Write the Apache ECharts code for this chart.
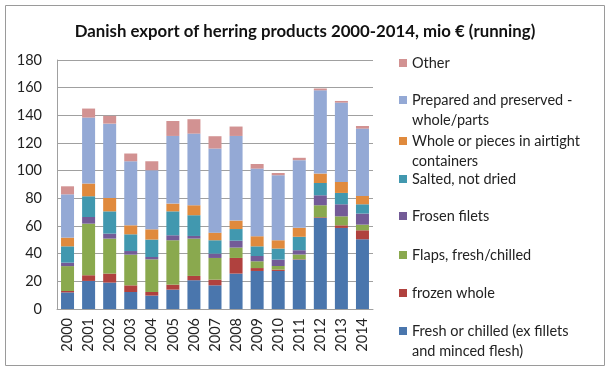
<!DOCTYPE html>
<html><head><meta charset="utf-8">
<script src="https://cdn.jsdelivr.net/npm/echarts@6/dist/echarts.min.js"></script>
<style>html,body{margin:0;padding:0;background:#fff}#c{width:610px;height:371px}</style>
</head><body><div id="c"></div>
<script>
const years = ['2000','2001','2002','2003','2004','2005','2006','2007','2008','2009','2010','2011','2012','2013','2014'];
const freshChilled = [12, 20.3, 19.1, 12.3, 9.7, 14, 20.8, 17.1, 25.6, 27.5, 27.5, 35.7, 65.8, 58.6, 50.4];
const frozenWhole  = [1, 4.1, 6.5, 4.8, 2.6, 3.6, 3.1, 4.1, 11.3, 2.1, 1, 0.3, 0.5, 1.9, 6.5];
const flaps        = [18, 37.3, 25.3, 22.2, 23.6, 32.1, 27, 15.7, 7.5, 4.9, 2.6, 3.4, 8.7, 6.5, 4.1];
const frosenFilets = [2.5, 4.8, 3.6, 2.6, 1.7, 3.6, 1.9, 3.1, 5, 3.8, 4.6, 3.1, 7.2, 8.7, 8];
const salted       = [11.8, 15, 16.1, 12.1, 12.6, 17.3, 15, 9.7, 8.4, 7, 8, 9.7, 8.9, 8.2, 6.7];
const airtight     = [6.3, 9.2, 9.7, 6.5, 7.4, 5.6, 7.2, 5.5, 6.1, 7.3, 6, 6.5, 6.8, 7.9, 6];
const prepared     = [31.3, 47.7, 53.7, 46.3, 42.7, 48.9, 51.8, 60.8, 61.2, 48.9, 47, 48.9, 60.2, 57.4, 48.7];
const other        = [5.8, 6.5, 5.6, 5.6, 6.5, 10.8, 10.4, 8.9, 6.8, 3.3, 1.6, 1.7, 1.3, 1.2, 1.9];
const yTicks = [0, 20, 40, 60, 80, 100, 120, 140, 160, 180];

const seriesDefs = [
  ['Fresh or chilled (ex fillets and minced flesh)', freshChilled, '#4a76ad', ['Fresh or chilled (ex fillets', 'and minced flesh)']],
  ['frozen whole', frozenWhole, '#b0413e', ['frozen whole']],
  ['Flaps, fresh/chilled', flaps, '#8aa94e', ['Flaps, fresh/chilled']],
  ['Frosen filets', frosenFilets, '#735b97', ['Frosen filets']],
  ['Salted, not dried', salted, '#4198af', ['Salted, not dried']],
  ['Whole or pieces in airtight containers', airtight, '#e08a3d', ['Whole or pieces in airtight', 'containers']],
  ['Prepared and preserved - whole/parts', prepared, '#94a9d5', ['Prepared and preserved -', 'whole/parts']],
  ['Other', other, '#d29292', ['Other']]
];
const legendCenters = [331, 293, 255, 216, 179, 141, 100, 63];
const FONT = 'Lato';
const LH = 20;
const labelMap = {};
seriesDefs.forEach(d => {
  labelMap[d[0]] = d[3].length > 1 ? ' \n' + d[3].join('\n') : d[3][0];
});

const legends = seriesDefs.map((d, i) => {
  const two = d[3].length > 1;
  return {
    orient: 'vertical', left: 399, top: legendCenters[i] - (two ? 1.5 * LH : 0.5 * LH),
    padding: 0,
    itemWidth: 8, itemHeight: 8, itemGap: 0,
    data: [{name: d[0], icon: 'rect'}],
    formatter: n => labelMap[n],
    textStyle: {fontFamily: FONT, fontSize: 14.5, color: '#222', lineHeight: LH},
    selectedMode: false
  };
});

const chart = echarts.init(document.getElementById('c'), null, {renderer: 'canvas'});
chart.setOption({
  animation: false,
  backgroundColor: '#fff',
  title: {text: 'Danish export of herring products 2000-2014, mio € (running)', left: 'center', top: 18,
    textStyle: {fontFamily: FONT, fontSize: 16.8, fontWeight: 'bold', color: '#111'}},
  graphic: [{type: 'rect', shape: {x: 5.5, y: 5.5, width: 599, height: 360}, style: {fill: null, stroke: '#9a9a9a', lineWidth: 1}, silent: true}],
  legend: legends,
  grid: {left: 57, right: 237, top: 60, bottom: 62, containLabel: false},
  xAxis: {type: 'category', data: years,
    axisLine: {lineStyle: {color: '#a0a0a0'}}, axisTick: {show: false},
    axisLabel: {rotate: 90, interval: 0, fontFamily: FONT, fontSize: 14.5, color: '#222', margin: 9}},
  yAxis: {type: 'value', min: yTicks[0], max: yTicks[yTicks.length - 1], interval: 20,
    axisLine: {show: true, lineStyle: {color: '#a0a0a0'}}, axisTick: {show: false},
    splitLine: {lineStyle: {color: '#a0a0a0'}},
    axisLabel: {fontFamily: FONT, fontSize: 14.5, color: '#222', margin: 15}},
  series: seriesDefs.map(d => ({
    name: d[0], type: 'bar', stack: 'a', data: d[1], barWidth: 13,
    itemStyle: {color: d[2]}
  }))
});
</script></body></html>
